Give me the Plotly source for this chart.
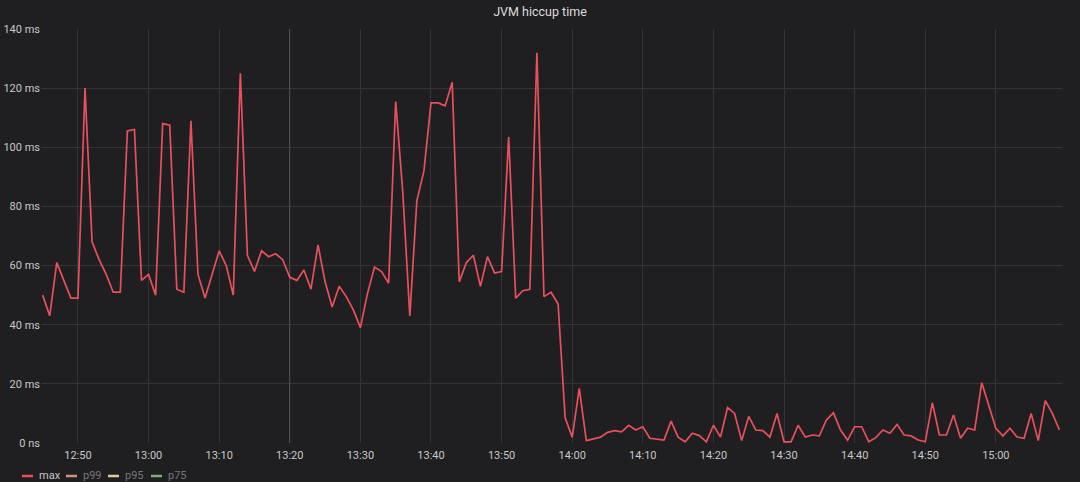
"""
JVM hiccup time panel, Grafana dark style.
"""

import pandas as pd
import plotly.graph_objects as go

# one sample per minute, starting 12:45
start_time = "2024-01-01 12:45"

max_ms = [
    50, 43, 61, 55, 49, 49, 120, 68, 62, 57,
    51, 51, 105.5, 106, 55, 57, 50, 108, 107.5, 52,
    51, 109, 57, 49, 57, 65, 60, 50, 125, 63.5,
    58, 65, 63, 64, 62, 56, 55, 58.5, 52, 67,
    54.5, 46, 53, 49.5, 45, 39, 50.5, 59.5, 58, 54,
    115.5, 85, 43, 82, 92, 115, 115, 114, 122, 54.5,
    61, 63.5, 53, 63, 57.5, 58, 103.5, 49, 51.5, 52,
    132, 49.5, 51, 47, 8.5, 2, 18.5, 0.8, 1.4, 2,
    3.6, 4.2, 3.8, 6, 4.4, 5.5, 1.6, 1.4, 1, 7.4,
    2, 0.4, 3.3, 2.5, 0.4, 6, 2, 12, 10, 0.8,
    9, 4.4, 4.2, 2, 10, 0.4, 0.4, 6, 2, 2.7,
    2.4, 7.8, 10.2, 4.4, 1, 5.5, 5.5, 0.4, 1.8, 4.4,
    3.3, 6.3, 2.7, 2.4, 1, 0.4, 13.6, 2.7, 2.7, 9.5,
    1.6, 5, 4.4, 20.4, 12.3, 5, 2.4, 5, 2, 1.6,
    10, 0.8, 14.3, 10, 4.4,
]

y_ticks = [0, 20, 40, 60, 80, 100, 120, 140]
y_tick_labels = ["0 ns", "20 ms", "40 ms", "60 ms", "80 ms", "100 ms", "120 ms", "140 ms"]

# legend entries: max is drawn, the percentiles are hidden (dimmed in legend)
legend_names = ["max", "p99", "p95", "p75"]
legend_colors = ["#e8505e", "#c9957c", "#e0cc9a", "#7fae7a"]

times = pd.date_range(start_time, periods=len(max_ms), freq="1min")

BG = "#1f1e20"
GRID = "#343437"
TEXT = "#c8c9ca"
DIM = "#77777a"

W, H = 1080, 482
L, R, T, B = 41, 18, 29, 39
PW, PH = W - L - R, H - T - B


def px_x(x):
    # pixel -> paper x
    return (x - L) / PW


def px_y(y):
    # pixel -> paper y
    return (H - B - y) / PH


fig = go.Figure()

fig.add_trace(
    go.Scatter(
        x=times,
        y=max_ms,
        name="max",
        mode="lines",
        line=dict(color=legend_colors[0], width=1.7),
        hovertemplate="%{x|%H:%M}  %{y} ms<extra>max</extra>",
    )
)

# faint crosshair-like line seen at 13:20
fig.add_vline(x=pd.Timestamp("2024-01-01 13:20"), line=dict(color="rgba(255,255,255,0.16)", width=1))

# hand-placed legend to get the compact Grafana look
legend_x = [22, 66, 108, 151]
for i, (name, color) in enumerate(zip(legend_names, legend_colors)):
    x0 = legend_x[i]
    fig.add_shape(
        type="line", xref="paper", yref="paper",
        x0=px_x(x0), x1=px_x(x0 + 11), y0=px_y(476), y1=px_y(476),
        line=dict(color=color, width=2.5),
    )
    fig.add_annotation(
        xref="paper", yref="paper",
        x=px_x(x0 + 15), y=px_y(476),
        xanchor="left", yanchor="middle",
        text=name, showarrow=False,
        font=dict(size=11, color=TEXT if i == 0 else DIM),
    )

fig.update_layout(
    width=W,
    height=H,
    title=dict(
        text="JVM hiccup time",
        x=0.5,
        xanchor="center",
        y=1 - 12 / H,
        yanchor="middle",
        font=dict(size=12.5, color="#dcdddf", family="Roboto"),
    ),
    font=dict(family="Roboto", size=11, color=TEXT),
    margin=dict(l=L, r=R, t=T, b=B, autoexpand=False),
    paper_bgcolor=BG,
    plot_bgcolor=BG,
    showlegend=False,
    xaxis=dict(
        range=["2024-01-01 12:44:46", "2024-01-01 15:09:22"],
        tickformat="%H:%M",
        dtick=600000,
        tick0="2024-01-01 12:50",
        showgrid=True,
        gridcolor=GRID,
        gridwidth=1,
        zeroline=False,
        showline=False,
        ticks="",
        ticklabelstandoff=4,
        automargin=False,
        tickfont=dict(size=11, color=TEXT),
    ),
    yaxis=dict(
        range=[0, 140],
        tickvals=y_ticks,
        ticktext=y_tick_labels,
        showgrid=True,
        gridcolor=GRID,
        gridwidth=1,
        zeroline=False,
        showline=False,
        ticks="",
        automargin=False,
        tickfont=dict(size=11, color=TEXT),
    ),
)

fig.write_html(
    "out.html",
    config={"displayModeBar": False},
    post_script="document.body.style.margin='0';",
)
